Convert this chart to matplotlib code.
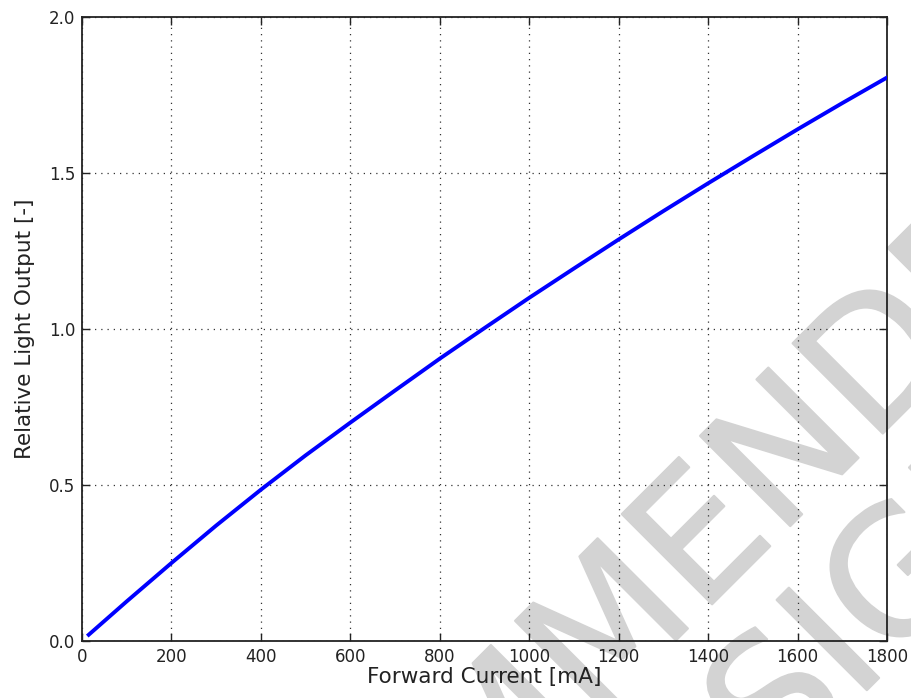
import numpy as np
import matplotlib
matplotlib.use("Agg")
import matplotlib.pyplot as plt
import matplotlib.patheffects as pe
from matplotlib.transforms import IdentityTransform
from matplotlib.textpath import TextToPath
from matplotlib.font_manager import FontProperties

current_ma = [15, 100, 200, 300, 400, 500, 600, 700, 800, 900, 1000,
              1100, 1200, 1300, 1400, 1500, 1600, 1700, 1800]
rel_output = [0.02, 0.127, 0.25, 0.37, 0.485, 0.595, 0.70, 0.803, 0.905, 1.003, 1.10,
              1.194, 1.287, 1.378, 1.467, 1.554, 1.64, 1.724, 1.806]
xticks = [0, 200, 400, 600, 800, 1000, 1200, 1400, 1600, 1800]
yticks = [0.0, 0.5, 1.0, 1.5, 2.0]
watermark_lines = ["NOT RECOMMENDED", "FOR NEW DESIGN"]

W, H, DPI = 912, 698, 100
fig = plt.figure(figsize=(W / DPI, H / DPI), dpi=DPI, facecolor="white")
ax = fig.add_axes([82 / W, 1 - 641 / H, (887 - 82) / W, (641 - 17) / H])
ax.patch.set_visible(False)

ax.plot(current_ma, rel_output, color="#0000ff", lw=2.8, zorder=3)
ax.set_xlim(0, 1800)
ax.set_ylim(0, 2.0)
ax.set_xticks(xticks)
ax.set_yticks(yticks)
ax.set_xticklabels([str(v) for v in xticks])
ax.set_yticklabels([f"{v:.1f}" for v in yticks])
ax.grid(True, color="#333333", linestyle=(0, (1, 4)), linewidth=0.9)
ax.tick_params(direction="in", length=6, width=1, top=True, right=True,
               labelsize=12, colors="#222222", pad=5)
for s in ax.spines.values():
    s.set_linewidth(1.3)
    s.set_color("#222222")
ax.set_xlabel("Forward Current [mA]", fontsize=15.5, labelpad=1, color="#222222")
ax.set_ylabel("Relative Light Output [-]", fontsize=15.5, labelpad=10, color="#222222")

# watermark (diagonal, light grey, behind the plot)
fs = 126
prop = FontProperties(family="DejaVu Sans", weight="normal", size=fs)
ttp = TextToPath()
ang = np.deg2rad(45)
d_img = np.array([np.cos(ang), -np.sin(ang)])   # baseline direction in image coords

def width_px(s):
    w, h, dsc = ttp.get_text_width_height_descent(s, prop, ismath=False)
    return w * DPI / 72.0

def ink_left(line, k):
    return width_px(line[:k + 1]) - width_px(line[k])

def place(line, targets):
    # targets: list of (char index, image point of that glyph's ink-left on baseline)
    starts = [np.array(pt) - ink_left(line, k) * d_img for k, pt in targets]
    s = np.mean(starts, axis=0)
    fig.text(s[0], H - s[1], line, transform=IdentityTransform(), fontproperties=prop,
             rotation=45, rotation_mode="anchor", ha="left", va="baseline",
             color="#d3d3d3", zorder=-1,
             path_effects=[pe.withStroke(linewidth=1.6, foreground="#d3d3d3")])

place(watermark_lines[0], [(10, (696.7, 620.0)), (12, (874.0, 442.0))])
i_w = width_px("I")
place(watermark_lines[1], [(11, (873.0 - i_w / 2 * d_img[0], 684.0 - i_w / 2 * d_img[1]))])

fig.savefig("out.png", dpi=DPI, facecolor="white")
